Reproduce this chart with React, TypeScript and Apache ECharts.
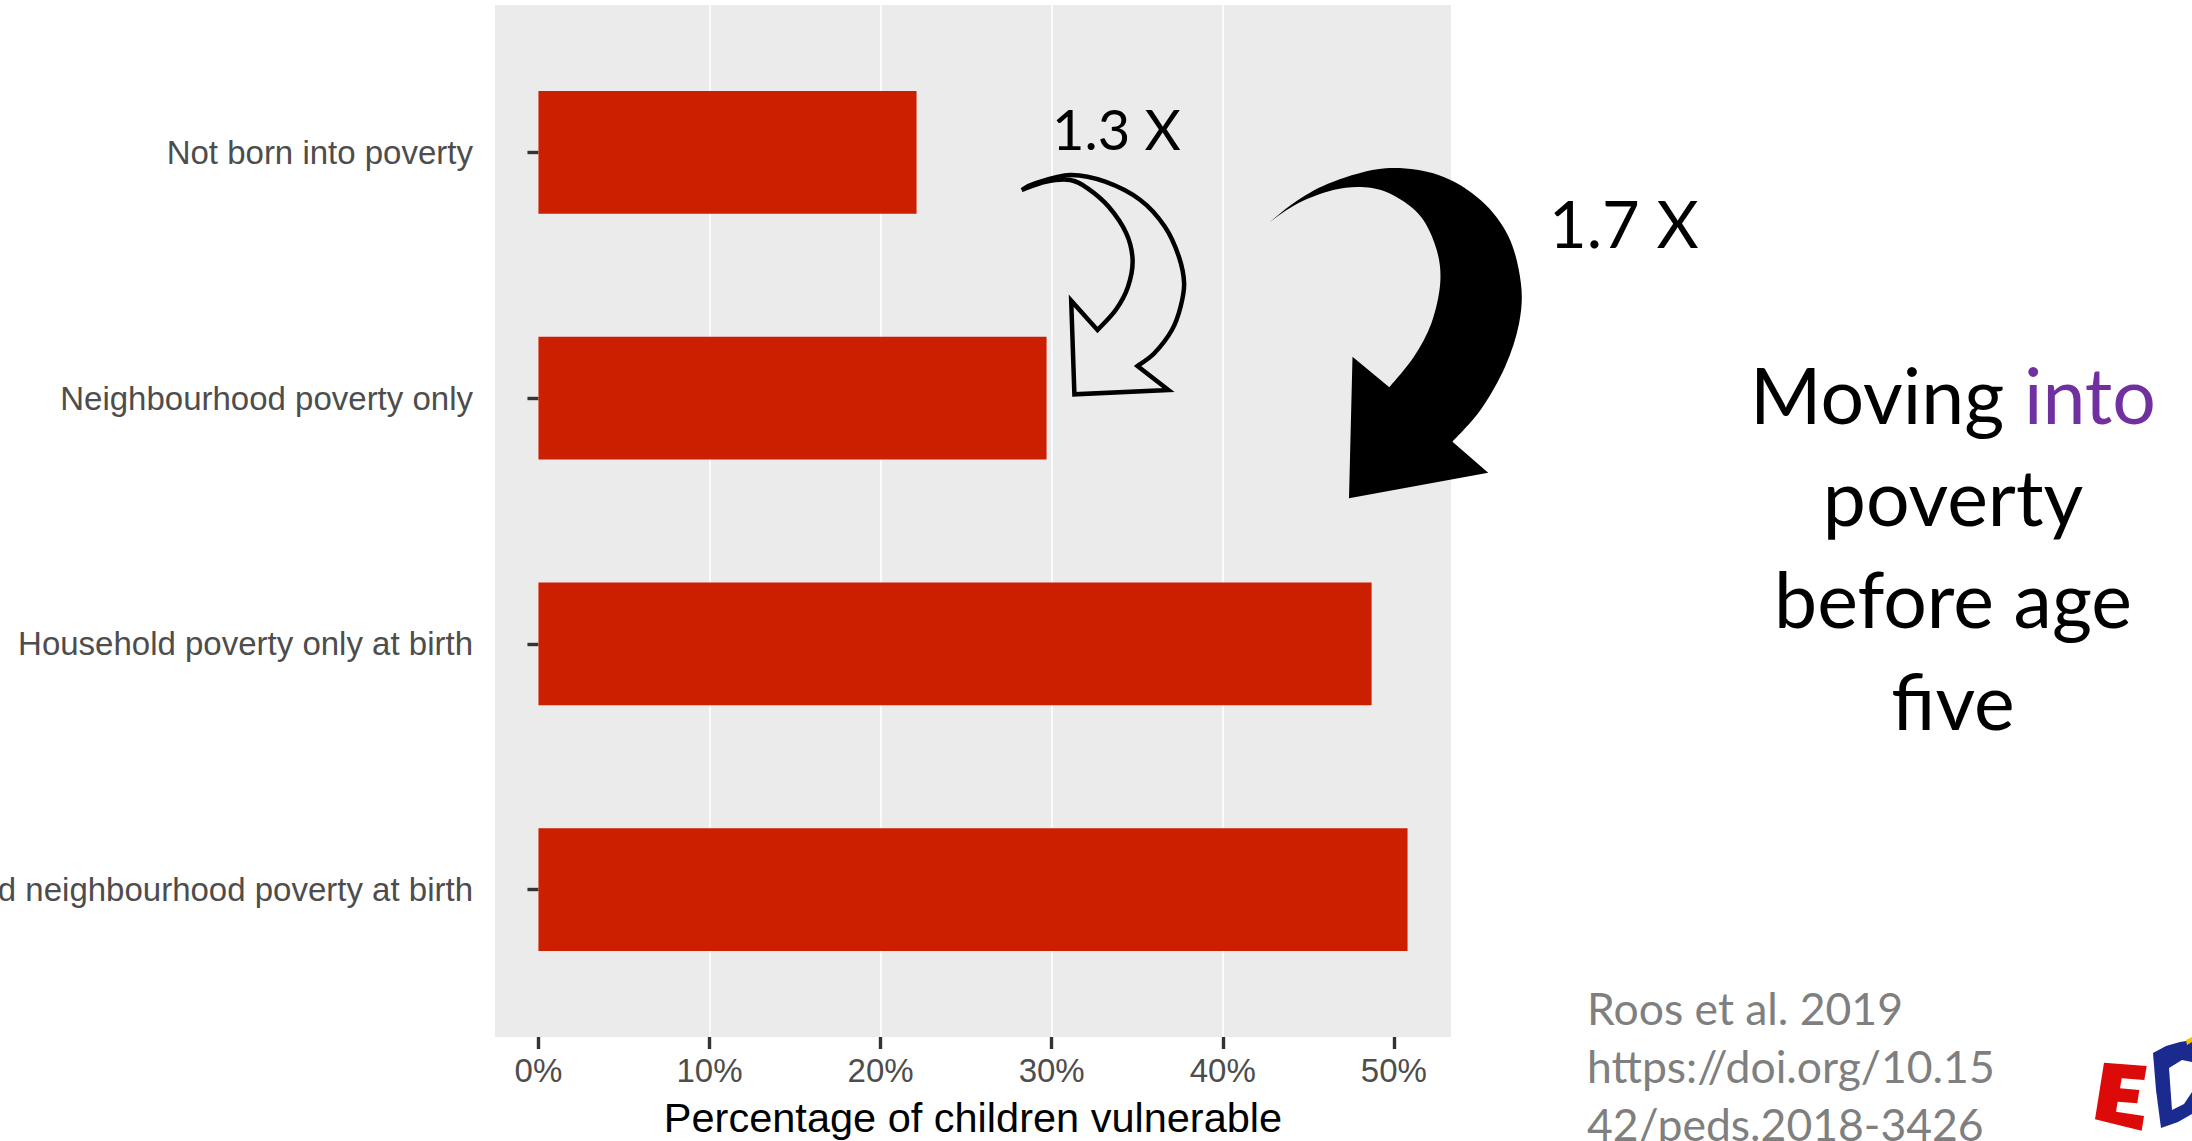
import React, { useEffect, useRef } from "react";
import * as echarts from "echarts";

// ---- data ----
const categories = [
  "Not born into poverty",
  "Neighbourhood poverty only",
  "Household poverty only at birth",
  "Household and neighbourhood poverty at birth",
];
const vulnerablePct = [22.1, 29.7, 48.7, 50.8];
const pctTicks = [0, 10, 20, 30, 40, 50];
const xAxisTitle = "Percentage of children vulnerable";
const ratioLabels = ["1.3 X", "1.7 X"];
const headlineLead = "Moving";
const headlineKey = "into";
const headlineRest = ["poverty", "before age", "five"];
const citationLines = ["Roos et al. 2019", "https://doi.org/10.15", "42/peds.2018-3426"];

// ---- layout ----
const W = 2192;
const H = 1141;
const PANEL = { left: 495, top: 5, width: 956, height: 1032 };
const AXIS_FONT = "'Liberation Sans', Arial, Helvetica, sans-serif";
const SLIDE_FONT = "Lato, 'Open Sans', sans-serif";

type Pt = [number, number];

// Catmull-Rom spline through the points, as cubic bezier commands
function smoothThrough(points: Pt[]): string {
  let d = "";
  for (let i = 0; i < points.length - 1; i++) {
    const p0 = points[Math.max(0, i - 1)];
    const p1 = points[i];
    const p2 = points[i + 1];
    const p3 = points[Math.min(points.length - 1, i + 2)];
    const c1x = p1[0] + (p2[0] - p0[0]) / 6;
    const c1y = p1[1] + (p2[1] - p0[1]) / 6;
    const c2x = p2[0] - (p3[0] - p1[0]) / 6;
    const c2y = p2[1] - (p3[1] - p1[1]) / 6;
    d += ` C ${c1x.toFixed(1)} ${c1y.toFixed(1)} ${c2x.toFixed(1)} ${c2y.toFixed(1)} ${p2[0].toFixed(1)} ${p2[1].toFixed(1)}`;
  }
  return d;
}

// curved arrow: outer edge from tail, straight-edged head, inner edge back to tail
function curvedArrow(outer: Pt[], head: Pt[], inner: Pt[]): string {
  let d = `M ${outer[0][0]} ${outer[0][1]}` + smoothThrough(outer);
  head.forEach((p) => {
    d += ` L ${p[0]} ${p[1]}`;
  });
  d += smoothThrough(inner);
  return d + " Z";
}

const hollowArrowD = curvedArrow(
  [
    [1021.7, 190], [1035, 183.3], [1070.2, 175], [1105.2, 181.7], [1140.3, 200],
    [1164.9, 226.7], [1178.9, 256.7], [1184.1, 283.3], [1180.6, 306.7],
    [1171.9, 330], [1154.3, 353.3], [1137.5, 366],
  ],
  [[1168.4, 390], [1074.4, 394.3], [1071.2, 300.7], [1097.5, 330]],
  [
    [1097.5, 330], [1115.7, 310], [1128, 286.7], [1132.6, 260], [1126.3, 233.3],
    [1108.7, 206.7], [1087.7, 188.3], [1070.2, 180], [1045.6, 181.7], [1021.7, 190],
  ]
);

const solidArrowD = curvedArrow(
  [
    [1270.1, 221.7], [1298.1, 200], [1333.2, 181.7], [1385.8, 168.3], [1438.4, 175],
    [1480.5, 200], [1508.6, 236.7], [1520.9, 283.3], [1519.1, 323.3],
    [1505.1, 366.7], [1480.5, 410], [1452.5, 441.7],
  ],
  [[1488.2, 472.7], [1349, 498.3], [1352.5, 356.7], [1389.3, 387.3]],
  [
    [1389.3, 387.3], [1413.9, 356.7], [1431.4, 323.3], [1440.2, 283.3], [1436.7, 250],
    [1420.9, 216.7], [1392.8, 195], [1364.8, 187.3], [1333.2, 190], [1298.1, 203.3],
    [1270.1, 221.7],
  ]
);

function buildOption(): echarts.EChartsOption {
  const maxVal = Math.max(...vulnerablePct);
  const xMin = -maxVal * 0.05;
  const xMax = maxVal * 1.05;
  // discrete axis padding of 0.6 of a step on each side
  const step = PANEL.height / (categories.length + 0.2);
  const barsTop = PANEL.top + 0.1 * step;
  const barsHeight = categories.length * step;

  const tickLine = { color: "#333333", width: 3.4 };

  return {
    animation: false,
    backgroundColor: "#FFFFFF",
    grid: [
      {
        left: PANEL.left,
        top: PANEL.top,
        width: PANEL.width,
        height: PANEL.height,
        show: true,
        backgroundColor: "#EBEBEB",
        borderWidth: 0,
        containLabel: false,
        outerBoundsMode: "none",
      },
      {
        left: PANEL.left,
        top: barsTop,
        width: PANEL.width,
        height: barsHeight,
        show: false,
        containLabel: false,
        outerBoundsMode: "none",
      },
    ] as any,
    xAxis: [
      {
        gridIndex: 0,
        type: "value",
        min: xMin,
        max: xMax,
        axisLine: { show: false },
        axisTick: {
          show: true,
          customValues: pctTicks,
          length: 12,
          lineStyle: tickLine,
        },
        axisLabel: {
          customValues: pctTicks,
          formatter: "{value}%",
          color: "#4D4D4D",
          fontSize: 33,
          fontFamily: AXIS_FONT,
          margin: 17,
        },
        splitLine: {
          show: true,
          showMinLine: false,
          showMaxLine: false,
          lineStyle: { color: "#FFFFFF", width: 1.6 },
        },
        name: xAxisTitle,
        nameLocation: "middle",
        nameGap: 59,
        nameTextStyle: { color: "#000000", fontSize: 41.5, fontFamily: AXIS_FONT },
      } as any,
      { gridIndex: 1, type: "value", min: xMin, max: xMax, show: false },
    ],
    yAxis: [
      { gridIndex: 0, type: "value", min: 0, max: 1, show: false },
      {
        gridIndex: 1,
        type: "category",
        data: categories,
        inverse: true,
        axisLine: { show: false },
        axisTick: { show: true, alignWithLabel: true, length: 11, lineStyle: tickLine },
        axisLabel: {
          interval: 0,
          color: "#4D4D4D",
          fontSize: 33,
          fontFamily: AXIS_FONT,
          margin: 22,
        },
        splitLine: { show: false },
      },
    ],
    series: [
      {
        type: "bar",
        xAxisIndex: 1,
        yAxisIndex: 1,
        data: vulnerablePct,
        barWidth: "50%",
        itemStyle: { color: "#CC1F00" },
        silent: true,
      },
    ],
    graphic: [
      {
        type: "hollowArrow",
        x: 0,
        y: 0,
        z: 100,
        silent: true,
        style: { fill: "none", stroke: "#000000", lineWidth: 4.5, lineJoin: "miter" },
      },
      {
        type: "solidArrow",
        x: 0,
        y: 0,
        z: 100,
        silent: true,
        style: { fill: "#000000", stroke: "none" },
      },
      {
        type: "text",
        x: 1052,
        y: 128,
        z: 100,
        style: {
          text: ratioLabels[0],
          fontSize: 56,
          fontFamily: SLIDE_FONT,
          fill: "#000000",
          align: "left",
          verticalAlign: "middle",
        },
      },
      {
        type: "text",
        x: 1549,
        y: 223,
        z: 100,
        style: {
          text: ratioLabels[1],
          fontSize: 65,
          fontFamily: SLIDE_FONT,
          fill: "#000000",
          align: "left",
          verticalAlign: "middle",
        },
      },
      {
        type: "text",
        x: 1953,
        y: 394,
        z: 100,
        style: {
          text: `{k|${headlineLead}} {p|${headlineKey}}`,
          fontSize: 77,
          fontFamily: SLIDE_FONT,
          fill: "#000000",
          align: "center",
          verticalAlign: "middle",
          rich: {
            k: { fontSize: 77, fontFamily: SLIDE_FONT, fill: "#000000" },
            p: { fontSize: 77, fontFamily: SLIDE_FONT, fill: "#7030A0" },
          },
        },
      },
      ...headlineRest.map((line, i) => ({
        type: "text" as const,
        x: 1953,
        y: 496 + i * 102,
        z: 100,
        style: {
          text: line,
          fontSize: 77,
          fontFamily: SLIDE_FONT,
          fill: "#000000",
          align: "center" as const,
          verticalAlign: "middle" as const,
        },
      })),
      ...citationLines.map((line, i) => ({
        type: "text" as const,
        x: 1587,
        y: 1007 + i * 58,
        z: 100,
        style: {
          text: line,
          fontSize: 44.5,
          fontFamily: SLIDE_FONT,
          fill: "#7F7F7F",
          align: "left" as const,
          verticalAlign: "middle" as const,
        },
      })),
      // corner logo
      {
        type: "polygon",
        z: 100,
        silent: true,
        shape: {
          points: [
            [2104, 1062.7], [2146.7, 1066], [2144.3, 1080], [2121.7, 1078.3],
            [2120, 1088.3], [2139.3, 1090], [2137.3, 1103.3], [2117.7, 1101.7],
            [2116, 1111.7], [2144, 1116], [2141.7, 1130.7], [2095, 1119.3],
          ],
        },
        style: { fill: "#DD0A0A" },
      },
      {
        type: "polygon",
        z: 100,
        silent: true,
        shape: {
          points: [
            [2153, 1053], [2166, 1046], [2180, 1042], [2192, 1040], [2192, 1114],
            [2178, 1122], [2161, 1128], [2156, 1090],
          ],
        },
        style: { fill: "#1B2A8E" },
      },
      {
        type: "polygon",
        z: 101,
        silent: true,
        shape: {
          points: [
            [2169, 1068], [2172, 1110], [2184, 1104], [2192, 1092], [2192, 1062], [2182, 1060],
          ],
        },
        style: { fill: "#FFFFFF" },
      },
      {
        type: "polygon",
        z: 101,
        silent: true,
        shape: { points: [[2186, 1040], [2192, 1037], [2192, 1042], [2187, 1045]] },
        style: { fill: "#F2C200" },
      },
    ] as any,
  };
}

export default function App() {
  const ref = useRef<HTMLDivElement>(null);

  useEffect(() => {
    if (!ref.current) return;
    echarts.graphic.registerShape("hollowArrow", echarts.graphic.extendPath(hollowArrowD, {}));
    echarts.graphic.registerShape("solidArrow", echarts.graphic.extendPath(solidArrowD, {}));
    const chart = echarts.init(ref.current, null, { renderer: "svg" });
    chart.setOption(buildOption());
    return () => {
      chart.dispose();
    };
  }, []);

  return (
    <div
      ref={ref}
      style={{
        position: "absolute",
        left: 0,
        top: 0,
        width: W,
        height: H,
        background: "#FFFFFF",
        overflow: "hidden",
      }}
    />
  );
}
